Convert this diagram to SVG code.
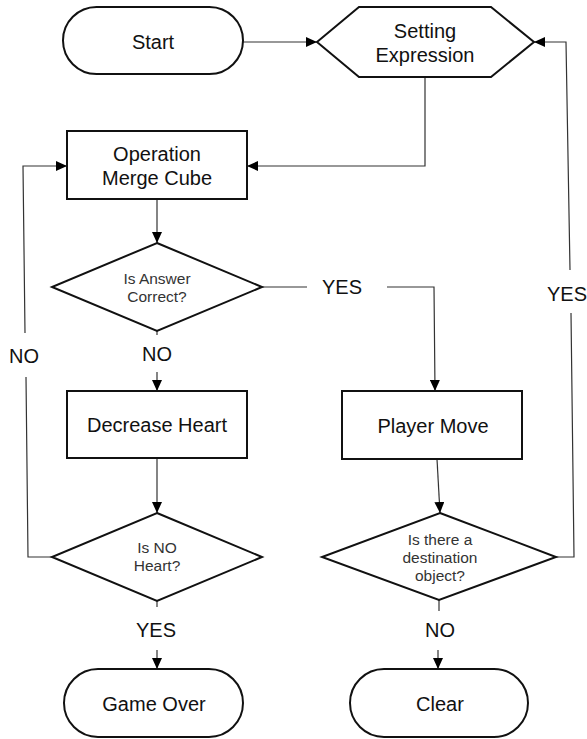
<svg xmlns="http://www.w3.org/2000/svg" width="587" height="739" viewBox="0 0 587 739">
<style>
.shape{fill:#fff;stroke:#111;stroke-width:2}
.conn{fill:none;stroke:#333;stroke-width:1.2}
.t{font-family:"Liberation Sans",Arial,sans-serif;fill:#111;text-anchor:middle}
.big{font-size:20px}
.sm{font-size:15.5px;fill:#333}
.lbl{font-size:20px}
</style>
<defs>
<marker id="ah" markerUnits="userSpaceOnUse" markerWidth="11" markerHeight="10" refX="11" refY="5" orient="auto">
<path d="M0,0 L11,5 L0,10 z" fill="#000"/>
</marker>
</defs>
<rect width="587" height="739" fill="#fff"/>
<g id="connectors">
<line class="conn" x1="243" y1="42" x2="317" y2="42" marker-end="url(#ah)"/>
<polyline class="conn" points="425,77 425,166 247,166" marker-end="url(#ah)"/>
<line class="conn" x1="157" y1="199" x2="157" y2="243" marker-end="url(#ah)"/>
<line class="conn" x1="262" y1="287" x2="307" y2="287"/>
<polyline class="conn" points="387,287 434,287 435,391" marker-end="url(#ah)"/>
<line class="conn" x1="157" y1="331" x2="157" y2="335"/>
<line class="conn" x1="157" y1="372" x2="157" y2="391" marker-end="url(#ah)"/>
<line class="conn" x1="157" y1="458" x2="157" y2="513" marker-end="url(#ah)"/>
<polyline class="conn" points="52,557 28,557 26,377"/>
<polyline class="conn" points="25,333 23,166 67,166" marker-end="url(#ah)"/>
<line class="conn" x1="157" y1="601" x2="157" y2="607"/>
<line class="conn" x1="157" y1="650" x2="157" y2="669" marker-end="url(#ah)"/>
<line class="conn" x1="437" y1="459" x2="440" y2="513" marker-end="url(#ah)"/>
<polyline class="conn" points="556,557 574,557 571,313"/>
<polyline class="conn" points="570,270 566,42 534,42" marker-end="url(#ah)"/>
<line class="conn" x1="439" y1="600" x2="439" y2="611"/>
<line class="conn" x1="438" y1="650" x2="438" y2="669" marker-end="url(#ah)"/>
<text class="t lbl" x="342" y="294">YES</text>
<text class="t lbl" x="567" y="301">YES</text>
<text class="t lbl" x="157" y="361">NO</text>
<text class="t lbl" x="24" y="363">NO</text>
<text class="t lbl" x="156" y="637">YES</text>
<text class="t lbl" x="440" y="637">NO</text>
</g>
<g id="start">
<rect class="shape" x="63" y="7" width="180" height="67" rx="33.5"/>
<text class="t big" x="153" y="49">Start</text>
</g>
<g id="setting-expression">
<polygon class="shape" points="317,42 359,7 491,7 534,42 491,77 359,77"/>
<text class="t big" x="425" y="38">Setting</text>
<text class="t big" x="425" y="62">Expression</text>
</g>
<g id="operation-merge-cube">
<rect class="shape" x="67" y="131" width="180" height="68"/>
<text class="t big" x="157" y="161">Operation</text>
<text class="t big" x="157" y="185">Merge Cube</text>
</g>
<g id="is-answer-correct">
<polygon class="shape" points="157,243 262,287 157,331 52,287"/>
<text class="t sm" x="157" y="284">Is Answer</text>
<text class="t sm" x="157" y="302">Correct?</text>
</g>
<g id="decrease-heart">
<rect class="shape" x="67" y="391" width="180" height="67"/>
<text class="t big" x="157" y="432">Decrease Heart</text>
</g>
<g id="is-no-heart">
<polygon class="shape" points="157,513 262,557 157,601 52,557"/>
<text class="t sm" x="157" y="553">Is NO</text>
<text class="t sm" x="157" y="571">Heart?</text>
</g>
<g id="game-over">
<rect class="shape" x="64" y="669" width="179" height="68" rx="34"/>
<text class="t big" x="154" y="711">Game Over</text>
</g>
<g id="player-move">
<rect class="shape" x="342" y="391" width="180" height="68"/>
<text class="t big" x="433" y="433">Player Move</text>
</g>
<g id="is-there-destination">
<polygon class="shape" points="440,513 556,557 439,600 322,557"/>
<text class="t sm" x="440" y="545">Is there a</text>
<text class="t sm" x="440" y="563">destination</text>
<text class="t sm" x="440" y="581">object?</text>
</g>
<g id="clear">
<rect class="shape" x="350" y="669" width="178" height="68" rx="34"/>
<text class="t big" x="440" y="711">Clear</text>
</g>
</svg>
